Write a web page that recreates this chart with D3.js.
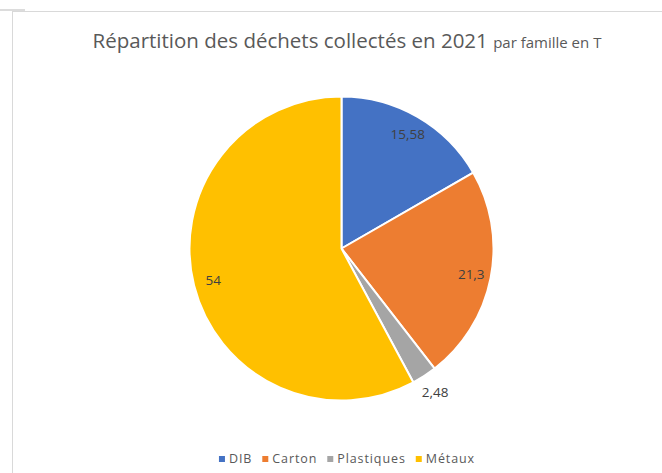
<!DOCTYPE html>
<html>
<head>
<meta charset="utf-8">
<script src="https://cdn.jsdelivr.net/npm/d3@7"></script>
<style>
  body { margin: 0; background: #fff; }
  svg { display: block; font-family: "Open Sans", "Liberation Sans", sans-serif; }
</style>
</head>
<body>
<div class="container"></div>
<script>
// svg dimensions
const width = 662;
const height = 473;

// data
const familles = ['DIB', 'Carton', 'Plastiques', 'Métaux'];
const tonnes = [15.58, 21.3, 2.48, 54];
const etiquettes = ['15,58', '21,3', '2,48', '54'];
const couleurs = ['#4472C4', '#ED7D31', '#A5A5A5', '#FFC000'];

const cx = 341.5, cy = 248.5, radius = 152;

const svg = d3.select('.container')
    .append('svg')
    .attr('width', width)
    .attr('height', height);

// chart frame (cropped)
svg.append('line')
    .attr('x1', 0).attr('x2', 25).attr('y1', 10).attr('y2', 10)
    .style('stroke', '#d0d0d0').style('stroke-width', 1.5);
svg.append('line')
    .attr('x1', 12).attr('x2', width).attr('y1', 11.5).attr('y2', 11.5)
    .style('stroke', '#d9d9d9');
svg.append('line')
    .attr('x1', 12.5).attr('x2', 12.5).attr('y1', 11).attr('y2', height)
    .style('stroke', '#d9d9d9');

// title
const title = svg.append('text')
    .attr('x', 347)
    .attr('y', 48)
    .attr('text-anchor', 'middle')
    .attr('fill', '#595959');
title.append('tspan')
    .attr('font-size', '20.5px')
    .text('Répartition des déchets collectés en 2021 ');
title.append('tspan')
    .attr('font-size', '15px')
    .text('par famille en T');

// pie
const data = familles.map((f, i) => ({ name: f, value: tonnes[i], label: etiquettes[i], color: couleurs[i] }));
const total = d3.sum(tonnes);

const pie = d3.pie().value(d => d.value).sort(null);
const arc = d3.arc().innerRadius(0).outerRadius(radius);

const g = svg.append('g').attr('transform', `translate(${cx},${cy})`);

const slices = pie(data);

g.selectAll('path')
    .data(slices)
    .enter()
    .append('path')
    .attr('d', arc)
    .style('fill', d => d.data.color)
    .style('stroke', '#fff')
    .style('stroke-width', 2)
    .style('stroke-linejoin', 'round');

// labels: small slices go outside
g.selectAll('text.lbl')
    .data(slices)
    .enter()
    .append('text')
    .attr('class', 'lbl')
    .attr('transform', d => {
        const r = d.data.value / total < 0.05 ? radius * 1.13 : radius * 0.87;
        const a = (d.startAngle + d.endAngle) / 2;
        return `translate(${r * Math.sin(a)},${-r * Math.cos(a)})`;
    })
    .attr('text-anchor', 'middle')
    .attr('dy', '0.35em')
    .attr('font-size', '13.5px')
    .attr('fill', '#404040')
    .text(d => d.data.label);

// legend
const legend = svg.append('g').attr('id', 'legend');
const items = legend.selectAll('g')
    .data(data)
    .enter()
    .append('g');

items.append('rect')
    .attr('width', 6)
    .attr('height', 6)
    .attr('y', 456)
    .style('fill', d => d.color);

items.append('text')
    .attr('y', 463)
    .attr('x', 10)
    .attr('font-size', '12.5px')
    .attr('letter-spacing', '0.9px')
    .attr('fill', '#595959')
    .text(d => d.name);

// lay out legend items centered
let widths = [];
items.each(function() {
    widths.push(10 + d3.select(this).select('text').node().getComputedTextLength());
});
const gap = 10;
const legendWidth = d3.sum(widths) + gap * (widths.length - 1);
let xPos = 347 - legendWidth / 2;
items.each(function(d, i) {
    d3.select(this).attr('transform', `translate(${xPos},0)`);
    xPos += widths[i] + gap;
});
</script>
</body>
</html>
